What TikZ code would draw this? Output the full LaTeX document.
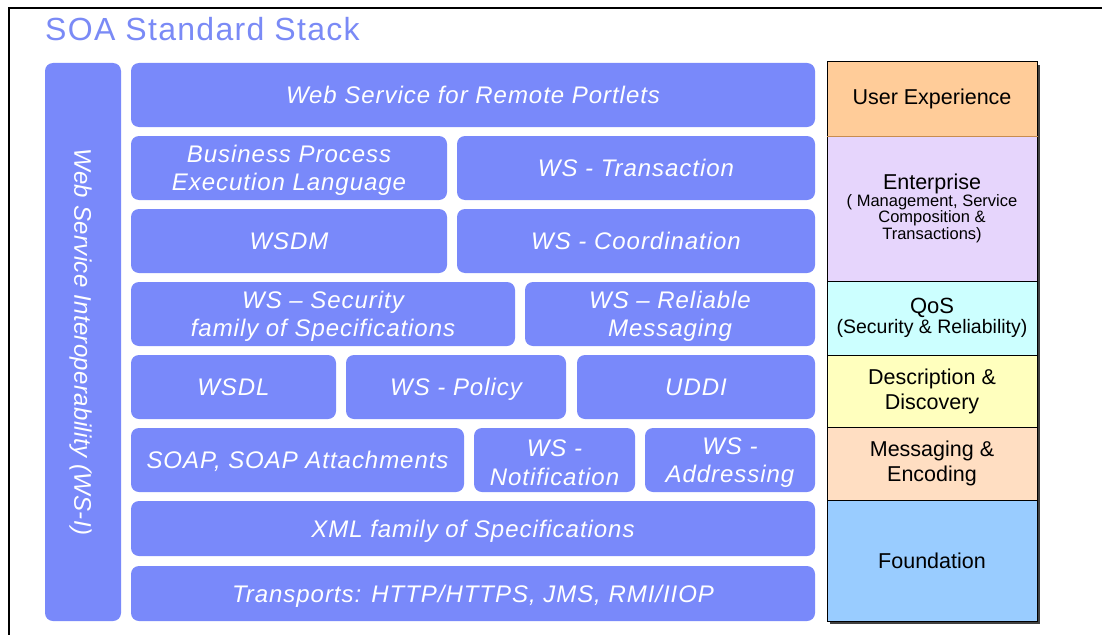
\documentclass[tikz,border=0pt]{standalone}
\usepackage{fontspec}
\setmainfont{Liberation Sans}
\newfontfamily\bluefont[LetterSpace=4]{Liberation Sans}
\newfontfamily\vertfont[LetterSpace=1.5]{Liberation Sans}
\definecolor{soablue}{RGB}{121,137,250}
\definecolor{titleblue}{RGB}{122,138,246}
\definecolor{uxcol}{RGB}{255,204,153}
\definecolor{entcol}{RGB}{230,213,252}
\definecolor{qoscol}{RGB}{204,255,255}
\definecolor{desccol}{RGB}{255,255,190}
\definecolor{msgcol}{RGB}{255,222,194}
\definecolor{foundcol}{RGB}{153,204,255}
\definecolor{uxline}{RGB}{200,140,80}
\tikzset{
  bbox/.style={rounded corners=8pt, fill=soablue, draw=none, text=white,
    font=\bluefont\itshape\fontsize{24}{28.5}\selectfont, align=center, inner sep=0pt,
    text height=17.2pt, text depth=0pt},
  btext/.style={text=white, font=\bluefont\itshape\fontsize{24}{28.5}\selectfont,
    align=center, inner sep=0pt},
  layer/.style={draw=black, line width=1pt, minimum width=210, inner sep=0pt,
    font=\fontsize{21.5}{25}\selectfont, align=center, text=black}
}
\begin{document}
\begin{tikzpicture}[x=1pt,y=-1pt]
\useasboundingbox (0,0) rectangle (1102,634);
\fill[white] (0,0) rectangle (1102,634);
\begin{scope}
\clip (0,0) rectangle (1102,634);
\draw[line width=1.5pt] (9,8) rectangle (1150,700);
\end{scope}
\node[anchor=base west, inner sep=0pt, text=titleblue, font=\bluefont\fontsize{32}{36}\selectfont] (title) at (45,41) {SOA Standard Stack};

% left vertical box
\node[bbox, minimum width=558, minimum height=76, rotate=-90, font=\vertfont\itshape\fontsize{24}{28}\selectfont] (wsi) at (83,342) {Web Service Interoperability (WS-I)};

% rows
\node[bbox, minimum width=684, minimum height=64] (wsrp) at (473,95) {Web Service for Remote Portlets};
\node[bbox, minimum width=316, minimum height=64] (bpel) at (289,168) {};
\node[btext] (bpelt) at ([yshift=-2.5pt]bpel.center) {Business Process\\Execution Language};
\node[bbox, minimum width=358, minimum height=64] (wstx) at (636,168) {WS - Transaction};
\node[bbox, minimum width=316, minimum height=64] (wsdm) at (289,241) {WSDM};
\node[bbox, minimum width=358, minimum height=64] (wscoord) at (636,241) {WS - Coordination};
\node[bbox, minimum width=384, minimum height=64] (wssec) at (323,314) {};
\node[btext] (wssect) at ([yshift=-2.5pt]wssec.center) {WS – Security\\family of Specifications};
\node[bbox, minimum width=290, minimum height=64] (wsrm) at (670,314) {};
\node[btext] (wsrmt) at ([yshift=-2.5pt]wsrm.center) {WS – Reliable\\Messaging};
\node[bbox, minimum width=205, minimum height=64] (wsdl) at (233.5,387) {WSDL};
\node[bbox, minimum width=220, minimum height=64] (wspol) at (456,387) {WS - Policy};
\node[bbox, minimum width=238, minimum height=64] (uddi) at (696,387) {UDDI};
\node[bbox, minimum width=333, minimum height=64] (soap) at (297.5,460) {SOAP, SOAP Attachments};
\node[bbox, minimum width=161, minimum height=64] (notif) at (554.5,460) {};
\node[btext] (notift) at ([yshift=-2.5pt]notif.center) {WS -\\Notification};
\node[bbox, minimum width=170, minimum height=64] (addr) at (730,460) {};
\node[btext] (addrt) at ([yshift=-2.5pt]addr.center) {WS -\\Addressing};
\node[bbox, minimum width=684, minimum height=55] (xml) at (473,528.5) {XML family of Specifications};
\node[bbox, minimum width=684, minimum height=55] (transp) at (473,593.5) {Transports: HTTP/HTTPS, JMS, RMI/IIOP};

% right column
\fill[black!75] (829.5,64.5) rectangle (1039.5,623.5);
\node[layer, fill=uxcol, minimum height=74] (ux) at (932,99) {User Experience};
\node[layer, fill=entcol, minimum height=145] (ent) at (932,208.5) {\parbox{205pt}{\centering\fontsize{21.5}{24}\selectfont Enterprise\par\fontsize{16.5}{16.5}\selectfont ( Management, Service\\Composition \&\\Transactions)}};
\node[layer, fill=qoscol, minimum height=74] (qos) at (932,318) {\parbox{205pt}{\centering\fontsize{22}{24}\selectfont QoS\par\fontsize{19.5}{20}\selectfont (Security \& Reliability)}};
\node[layer, fill=desccol, minimum height=72] (desc) at (932,391) {Description \&\\Discovery};
\node[layer, fill=msgcol, minimum height=73] (msg) at (932,463.5) {Messaging \&\\Encoding};
\node[layer, fill=foundcol, minimum height=121] (found) at (932,560.5) {Foundation};
\draw[uxline, line width=1pt] (ux.south west) -- (ux.south east);
\end{tikzpicture}
\end{document}
